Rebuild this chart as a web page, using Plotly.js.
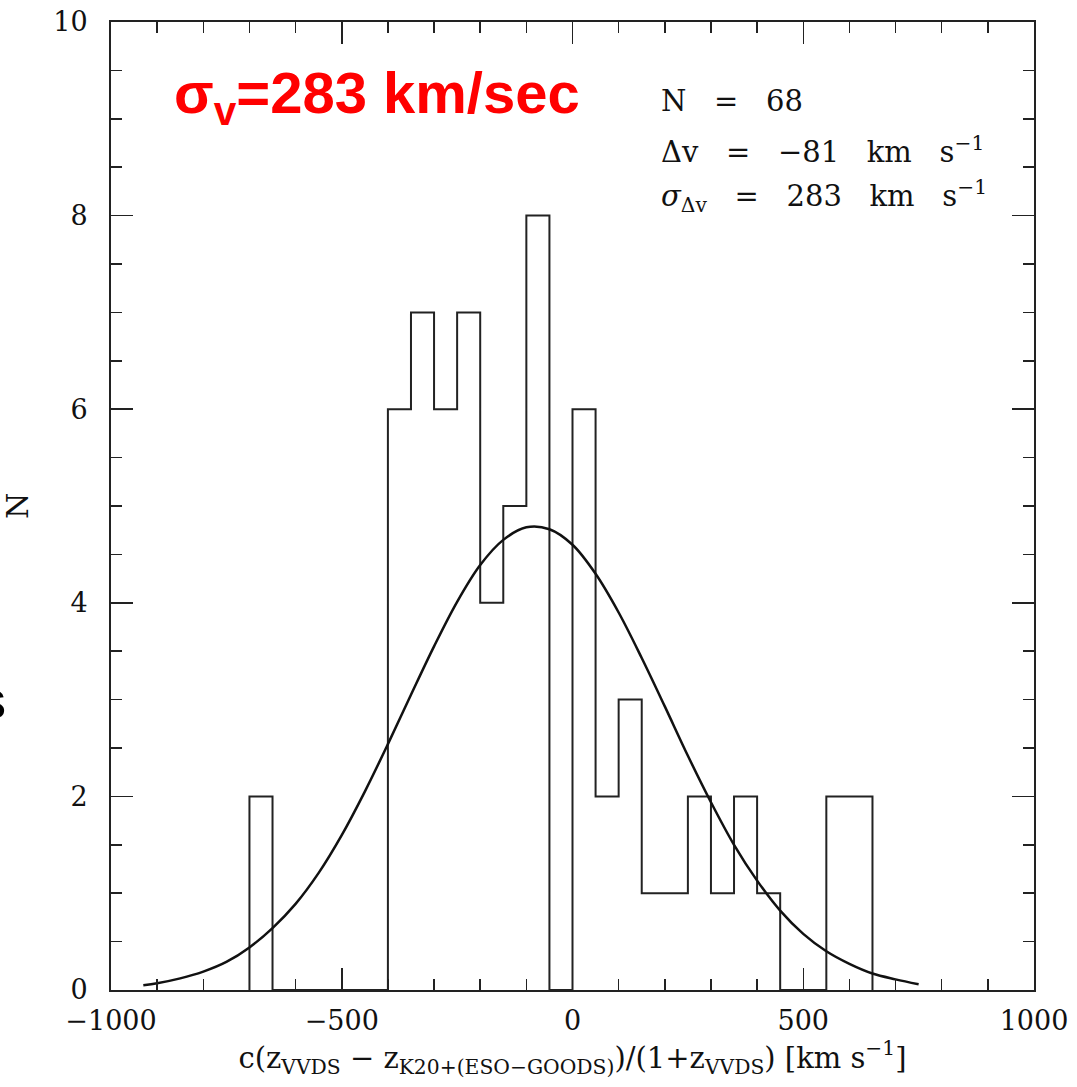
<!DOCTYPE html>
<html>
<head>
<meta charset="utf-8">
<script src="https://cdn.plot.ly/plotly-3.0.1.min.js"></script>
<style>html,body{margin:0;padding:0;background:#fff;}#chart{width:1077px;height:1087px;}</style>
</head>
<body>
<div id="chart"></div>
<script>
// Histogram: left edges of 50 km/s bins and counts
const binLeft = [-700,-650,-600,-550,-500,-450,-400,-350,-300,-250,-200,-150,-100,-50,0,50,100,150,200,250,300,350,400,450,500,550,600];
const counts  = [2,0,0,0,0,0,6,7,6,7,4,5,8,0,6,2,3,1,1,2,1,2,1,0,0,2,2];
const binWidth = 50;

// Gaussian fit curve
const curveX = [-930,-900,-850,-800,-750,-700,-650,-600,-550,-500,-450,-400,-350,-300,-250,-200,-150,-100,-50,0,50,100,150,200,250,300,350,400,450,500,550,600,650,700,750];
const curveY = [0.05,0.07,0.12,0.19,0.29,0.44,0.64,0.89,1.21,1.60,2.05,2.54,3.05,3.55,4.01,4.39,4.65,4.78,4.76,4.60,4.30,3.90,3.43,2.93,2.42,1.94,1.50,1.13,0.82,0.58,0.40,0.27,0.17,0.11,0.06];

const xTickVals = [-1000,-500,0,500,1000];
const yTickVals = [0,2,4,6,8,10];

const stepX = [binLeft[0]].concat(binLeft, [binLeft[binLeft.length-1] + binWidth]);
const stepY = [0].concat(counts, [0]);

const serif = "DejaVu Serif, Liberation Serif, serif";

const traces = [
  {x: stepX, y: stepY, type: 'scatter', mode: 'lines', line: {shape: 'hv', color: '#222', width: 2}, hoverinfo: 'skip'},
  {x: curveX, y: curveY, type: 'scatter', mode: 'lines', line: {shape: 'spline', color: '#111', width: 2.5}, hoverinfo: 'skip'}
];

const axisCommon = {
  showgrid: false, zeroline: false, showline: true, linecolor: '#222', linewidth: 2,
  mirror: 'allticks', ticks: 'inside', ticklen: 22, tickwidth: 1.5, tickcolor: '#222',
  tickfont: {family: serif, size: 27, color: '#111'}
};

const S = '&nbsp;&nbsp;&nbsp;';

const layout = {
  width: 1077, height: 1087,
  margin: {l: 111, r: 43, t: 22, b: 97},
  paper_bgcolor: '#fff', plot_bgcolor: '#fff',
  showlegend: false,
  xaxis: Object.assign({}, axisCommon, {
    range: [-1000, 1000], tickmode: 'array', tickvals: xTickVals,
    minor: {dtick: 100, ticks: 'inside', ticklen: 11, tickwidth: 1.5, tickcolor: '#222'},
    ticklabelstandoff: 6,
    title: {text: 'c(z<sub>VVDS</sub> − z<sub>K20+(ESO−GOODS)</sub>)/(1+z<sub>VVDS</sub>) [km s<sup>−1</sup>]',
            font: {family: serif, size: 29, color: '#111'}, standoff: 6}
  }),
  yaxis: Object.assign({}, axisCommon, {
    range: [0, 10], tickmode: 'array', tickvals: yTickVals,
    minor: {dtick: 0.5, ticks: 'inside', ticklen: 11, tickwidth: 1.5, tickcolor: '#222'},
    ticklabelstandoff: 16,
    title: {text: 'N', font: {family: serif, size: 30, color: '#111'}, standoff: 38}
  }),
  annotations: [
    {xref: 'paper', yref: 'paper', x: 0.066, y: 0.923, xanchor: 'left', yanchor: 'middle', showarrow: false,
     text: '<b>σ<sub>v</sub>=283 km/sec</b>', font: {family: 'Liberation Sans, Arial, sans-serif', size: 58, color: '#ff0000'}},
    {xref: 'paper', yref: 'paper', x: 0.594, y: 0.918, xanchor: 'left', yanchor: 'middle', showarrow: false, align: 'left',
     text: 'N' + S + '=' + S + '68', font: {family: serif, size: 29, color: '#111'}},
    {xref: 'paper', yref: 'paper', x: 0.594, y: 0.868, xanchor: 'left', yanchor: 'middle', showarrow: false, align: 'left',
     text: 'Δv' + S + '=' + S + '−81' + S + 'km' + S + 's<sup>−1</sup>', font: {family: serif, size: 29, color: '#111'}},
    {xref: 'paper', yref: 'paper', x: 0.594, y: 0.82, xanchor: 'left', yanchor: 'middle', showarrow: false, align: 'left',
     text: '<i>σ</i><sub>Δv</sub>' + S + '=' + S + '283' + S + 'km' + S + 's<sup>−1</sup>', font: {family: serif, size: 29, color: '#111'}},
    {xref: 'paper', yref: 'paper', x: 0, y: 0.3, xanchor: 'right', yanchor: 'middle', xshift: -103, showarrow: false,
     text: 's', font: {family: 'Liberation Sans, Arial, sans-serif', size: 52, color: '#000'}}
  ]
};

Plotly.newPlot('chart', traces, layout, {staticPlot: true, displayModeBar: false});
</script>
</body>
</html>
